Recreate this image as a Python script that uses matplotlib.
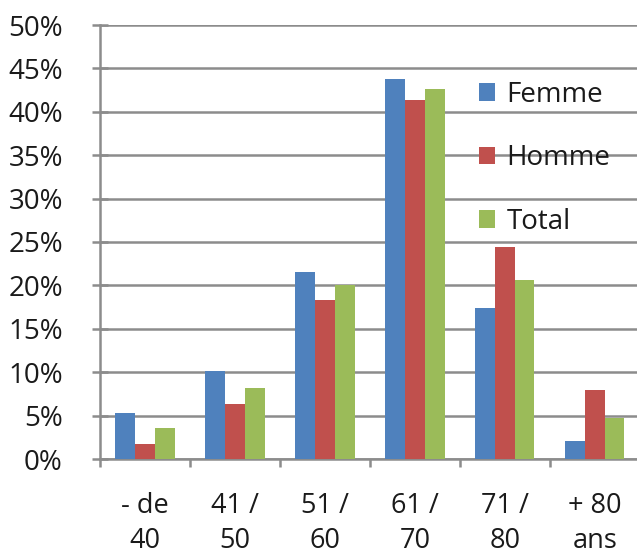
import matplotlib
matplotlib.use("Agg")
import matplotlib.pyplot as plt
import numpy as np
from matplotlib.ticker import FuncFormatter, MultipleLocator, FixedLocator

categories = ["- de\n40", "41 /\n50", "51 /\n60", "61 /\n70", "71 /\n80", "+ 80\nans"]
femme = [5.3, 10.1, 21.5, 43.8, 17.4, 2.1]
homme = [1.7, 6.3, 18.3, 41.4, 24.4, 7.9]
total = [3.6, 8.2, 20.0, 42.6, 20.6, 4.7]
series_names = ["Femme", "Homme", "Total"]
colors = ["#4F81BD", "#C0504D", "#9BBB59"]

plt.rcParams['font.family'] = ['Open Sans', 'DejaVu Sans']

fig = plt.figure(figsize=(6.37, 5.57), dpi=100)
ax = fig.add_axes([100/637, (557-459)/557, 537/637, 434/557])

x = np.arange(len(categories))
w = 0.22
for i, (vals, name, c) in enumerate(zip([femme, homme, total], series_names, colors)):
    ax.bar(x + (i - 1) * w, vals, width=w, color=c, label=name, zorder=3)

ax.set_ylim(0, 50)
ax.set_xlim(-0.5, 5.47)
ax.yaxis.set_major_locator(MultipleLocator(5))
ax.yaxis.set_major_formatter(FuncFormatter(lambda v, p: f"{int(round(v))}%"))
ax.grid(axis='y', color='#8c8c8c', linewidth=1.8, zorder=0)
ax.set_axisbelow(True)

ax.set_xticks(x)
ax.set_xticklabels(categories, fontsize=19.5, linespacing=1.36, color='#1a1a1a')
ax.xaxis.set_minor_locator(FixedLocator(np.arange(-0.5, 5.6, 1.0)))
ax.tick_params(axis='x', which='major', length=0, pad=23.5)
ax.tick_params(axis='x', which='minor', length=6, width=1.8, color='#8c8c8c', direction='out')
ax.tick_params(axis='y', which='major', length=11.5, width=1.8, color='#8c8c8c',
               direction='inout', labelsize=20, labelcolor='#1a1a1a', pad=21)

for s in ['top', 'right']:
    ax.spines[s].set_visible(False)
for s in ['left', 'bottom']:
    ax.spines[s].set_color('#8c8c8c')
    ax.spines[s].set_linewidth(1.8)

leg = ax.legend(loc='upper left', bbox_to_anchor=(0.705, 0.871), frameon=False,
                fontsize=20, handlelength=0.6, handleheight=0.6, handletextpad=0.4,
                labelspacing=1.27, borderaxespad=0, borderpad=0)
for t in leg.get_texts():
    t.set_color('#1a1a1a')
leg.set_zorder(5)

fig.savefig("out.png", dpi=100)
